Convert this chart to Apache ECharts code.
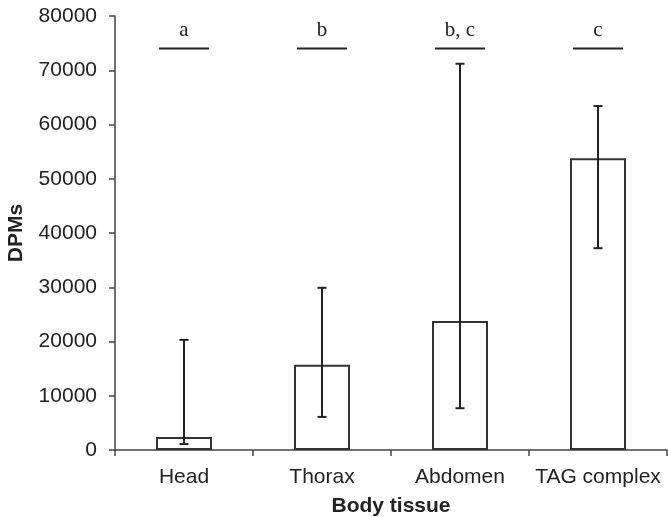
<!DOCTYPE html>
<html>
<head>
<meta charset="utf-8">
<script src="https://cdn.jsdelivr.net/npm/echarts@6/dist/echarts.min.js"></script>
<style>
  html, body { margin: 0; padding: 0; background: #fff; }
  #grafica { width: 668px; height: 517px; }
</style>
</head>
<body>
<div id="grafica"></div>
<script>
// datos
const categorias = ["Head", "Thorax", "Abdomen", "TAG complex"];
const medias = [2400, 15700, 23800, 53800];
const errorBajo = [1100, 6100, 7700, 37200];
const errorAlto = [20300, 29900, 71200, 63400];
const letras = ["a", "b", "b, c", "c"];
const nivelLetras = 74000;

const colorTinta = "#222";

var dom = document.getElementById('grafica');
var myChart = echarts.init(dom, null, { renderer: 'canvas' });

function barraError(params, api) {
  const x = api.value(0);
  const abajo = api.coord([x, api.value(1)]);
  const arriba = api.coord([x, api.value(2)]);
  const cap = 4.5;
  const estilo = { stroke: colorTinta, lineWidth: 2 };
  return {
    type: 'group',
    children: [
      { type: 'line', shape: { x1: abajo[0], y1: abajo[1], x2: arriba[0], y2: arriba[1] }, style: estilo },
      { type: 'line', shape: { x1: abajo[0] - cap, y1: abajo[1], x2: abajo[0] + cap, y2: abajo[1] }, style: estilo },
      { type: 'line', shape: { x1: arriba[0] - cap, y1: arriba[1], x2: arriba[0] + cap, y2: arriba[1] }, style: estilo }
    ]
  };
}

function lineaLetra(params, api) {
  const p = api.coord([api.value(0), api.value(1)]);
  const mitad = 25;
  return {
    type: 'group',
    children: [
      { type: 'line', shape: { x1: p[0] - mitad, y1: p[1], x2: p[0] + mitad, y2: p[1] }, style: { stroke: colorTinta, lineWidth: 2 } },
      { type: 'text', x: p[0], y: p[1] - 8, style: {
          text: letras[params.dataIndex], fill: colorTinta,
          font: '21px "Liberation Serif", "DejaVu Serif", serif',
          textAlign: 'center', textVerticalAlign: 'bottom' } }
    ]
  };
}

var option = {
  animation: false,
  grid: { left: 115, right: 1, top: 16, bottom: 67, containLabel: false, outerBoundsMode: 'none' },
  xAxis: {
    type: 'category',
    data: categorias,
    name: 'Body tissue',
    nameLocation: 'middle',
    nameGap: 46,
    nameTextStyle: { fontFamily: 'Liberation Sans', fontWeight: 'bold', fontSize: 21, color: colorTinta },
    axisLine: { lineStyle: { color: '#444', width: 1.5 } },
    axisTick: { show: true, length: 6, alignWithLabel: false, lineStyle: { color: '#444', width: 1.5 } },
    axisLabel: { interval: 0, margin: 17, fontFamily: 'Liberation Sans', fontSize: 21, color: colorTinta }
  },
  yAxis: {
    type: 'value',
    min: 0,
    max: 80000,
    interval: 10000,
    name: 'DPMs',
    nameLocation: 'middle',
    nameGap: 88,
    nameTextStyle: { fontFamily: 'Liberation Sans', fontWeight: 'bold', fontSize: 21, color: colorTinta },
    axisLine: { show: true, lineStyle: { color: '#444', width: 1.5 } },
    axisTick: { show: true, length: 6, lineStyle: { color: '#444', width: 1.5 } },
    axisLabel: { margin: 18, fontFamily: 'Liberation Sans', fontSize: 21, color: colorTinta,
      formatter: v => String(v) },
    splitLine: { show: false }
  },
  series: [
    {
      type: 'bar',
      data: medias,
      barWidth: 56,
      itemStyle: { color: '#fff', borderColor: '#333', borderWidth: 2 }
    },
    {
      type: 'custom',
      renderItem: barraError,
      data: categorias.map((c, i) => [i, errorBajo[i], errorAlto[i]]),
      z: 10
    },
    {
      type: 'custom',
      renderItem: lineaLetra,
      data: categorias.map((c, i) => [i, nivelLetras]),
      z: 10
    }
  ]
};

myChart.setOption(option);
window.addEventListener('resize', myChart.resize);
</script>
</body>
</html>
